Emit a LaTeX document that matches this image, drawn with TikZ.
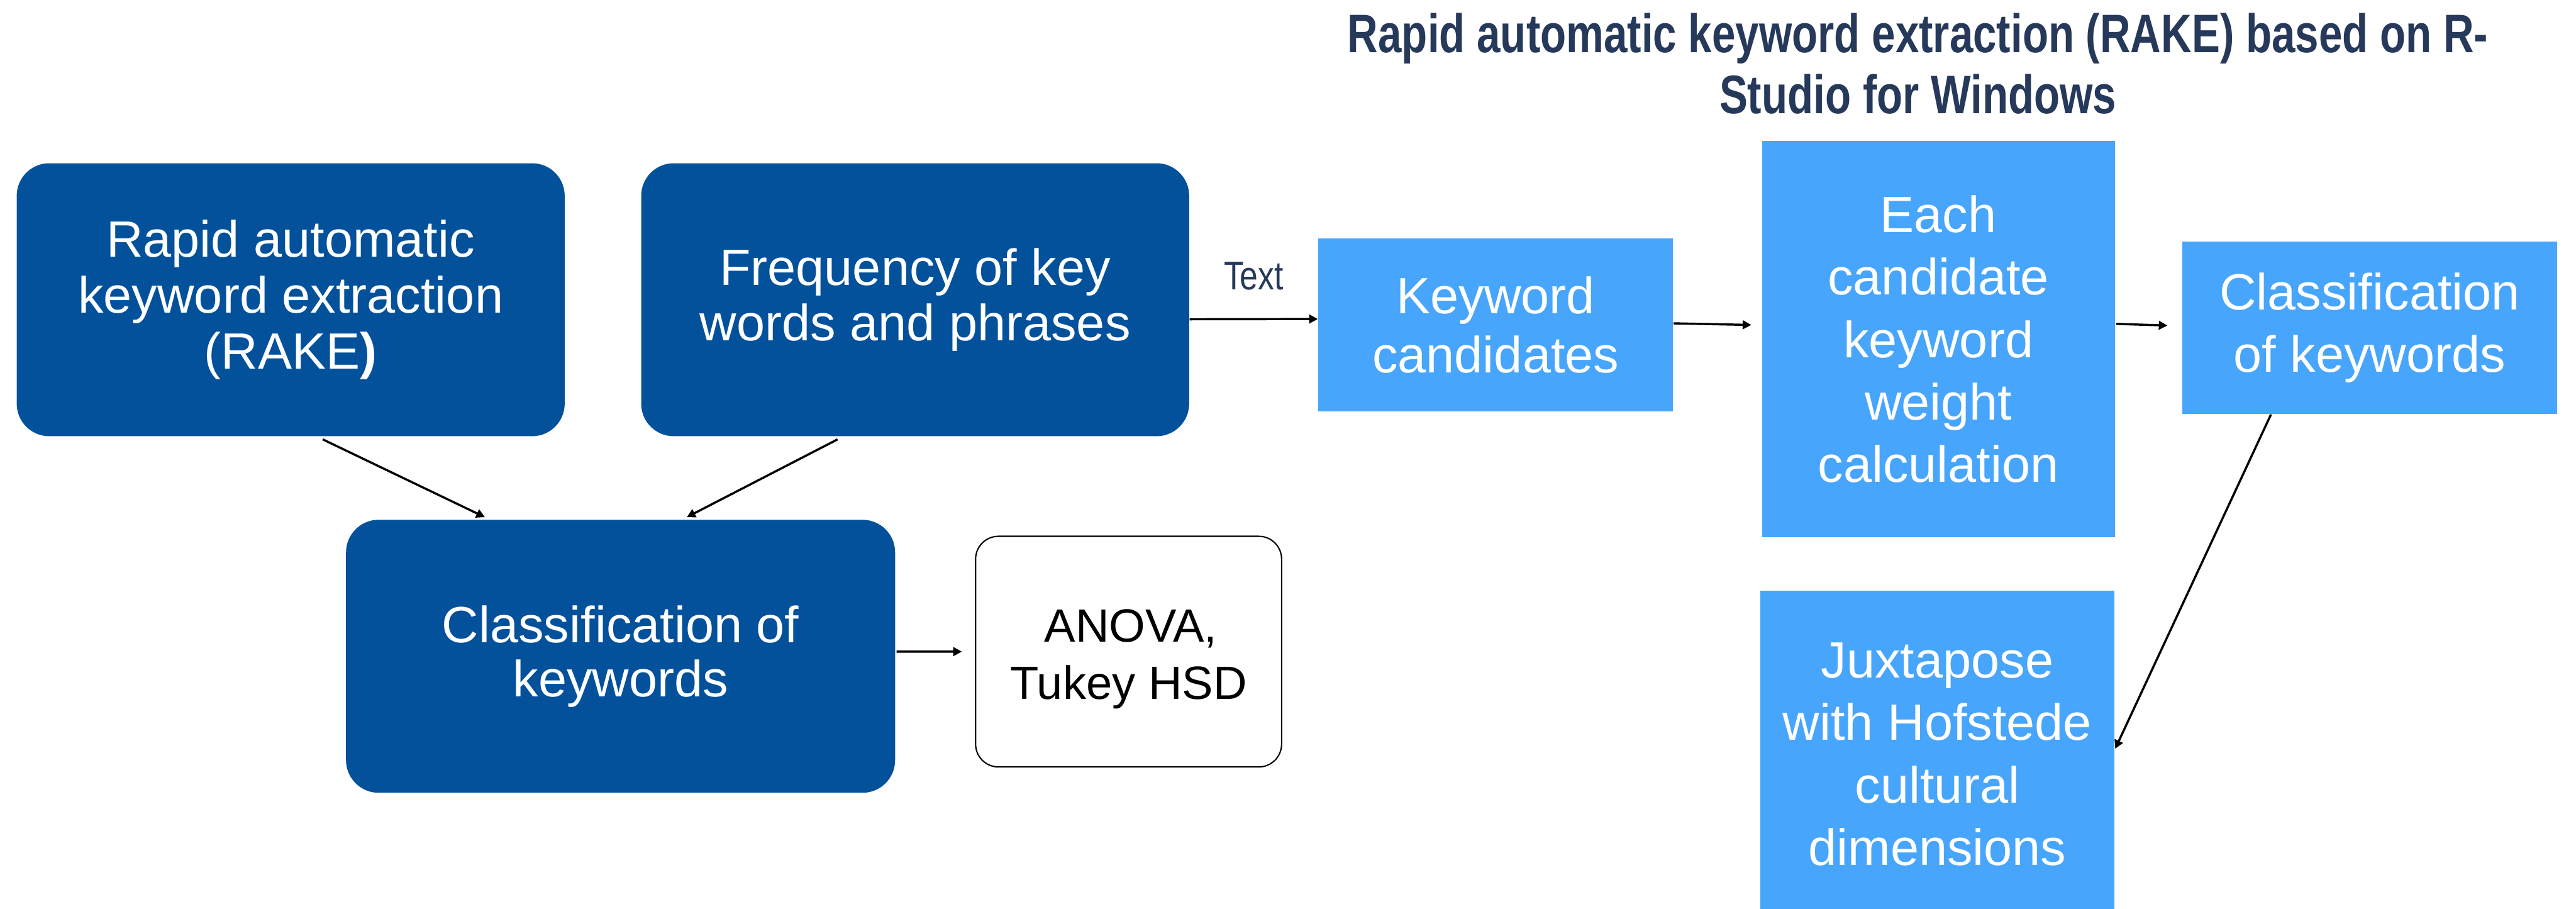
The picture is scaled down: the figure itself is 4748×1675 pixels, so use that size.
\documentclass[tikz,border=0pt]{standalone}
\usepackage{fontspec}
\setmainfont{Liberation Sans}
\newfontfamily\headfont[FakeStretch=0.78]{Liberation Sans}
\newfontfamily\labelfont[FakeStretch=0.81]{Liberation Sans}
\usetikzlibrary{arrows.meta,backgrounds}

\definecolor{darkbox}{HTML}{03519B}
\definecolor{lightbox}{HTML}{47A5FC}
\definecolor{navy}{HTML}{26395A}

% one unit = one pixel of a 4748 x 1675 canvas, y grows downwards
\tikzset{
  x=0.25pt, y=-0.25pt,
  darkstep/.style={fill=darkbox, text=white, rounded corners=15pt, anchor=north west,
    inner sep=0pt, align=center, font=\fontsize{23.5}{25.75}\selectfont},
  lightstep/.style={fill=lightbox, text=white, anchor=north west, inner sep=0pt,
    align=center},
  resultbox/.style={draw=black, line width=0.6pt, fill=white, rounded corners=10.5pt,
    anchor=north west, inner sep=0pt},
  resulttext/.style={align=center, inner sep=0pt, text=black,
    font=\fontsize{21.5}{26.5}\selectfont},
  arr/.style={-{Triangle[length=4pt,width=4pt]}, line width=1pt, black},
}

\begin{document}
\begin{tikzpicture}
\useasboundingbox (0,0) rectangle (4748,1675);
\clip (0,0) rectangle (4748,1675);
\fill[white] (0,0) rectangle (4748,1675);

% heading
\node[font=\headfont\bfseries\fontsize{25}{28}\selectfont, text=navy, align=center,
      inner sep=0pt] (title) at (3535,117)
  {Rapid automatic keyword extraction (RAKE) based on R-\\Studio for Windows};

% left-hand workflow
\node[darkstep, minimum width=252.5pt, minimum height=125.75pt] (rake) at (30,300)
  {Rapid automatic\\keyword extraction\\(RAKE\textbf{)}};
\node[darkstep, minimum width=252.5pt, minimum height=125.75pt] (freq) at (1181,300)
  {Frequency of key\\words and phrases};
\node[darkstep, minimum width=253pt, minimum height=125.75pt,
      font=\fontsize{23.5}{25}\selectfont] (classA) at (637,957)
  {Classification of\\keywords};
\node[resultbox, minimum width=141pt, minimum height=106.25pt,
      label={[name=anovatext, resulttext, yshift=-3.5pt]center:{\hspace*{2pt}ANOVA,\\Tukey HSD}}]
  (anova) at (1797,987) {};

% right-hand workflow
\node[lightstep, minimum width=163.5pt, minimum height=79.5pt,
      font=\fontsize{23.5}{27.25}\selectfont] (kc) at (2429,439)
  {Keyword\\candidates};
\node[lightstep, minimum width=162.5pt, minimum height=182.5pt,
      font=\fontsize{23.5}{28.75}\selectfont] (each) at (3247,259)
  {Each\\candidate\\keyword\\weight\\calculation};
\node[lightstep, minimum width=172.5pt, minimum height=79.5pt,
      font=\fontsize{23.5}{28.75}\selectfont] (classB) at (4022,444)
  {Classification\\of keywords};
\node[lightstep, minimum width=163pt, minimum height=150.5pt,
      font=\fontsize{23.5}{28.75}\selectfont] (jux) at (3244,1088)
  {Juxtapose\\with Hofstede\\cultural\\dimensions};

% soft shadows under the light boxes
\begin{scope}[on background layer]
\foreach \n in {kc,each,classB,jux}{
  \fill[black!6]  ([shift={(-5,0)}]\n.north west) rectangle ([shift={(9,13)}]\n.south east);
  \fill[black!15] ([shift={(-3,2)}]\n.north west) rectangle ([shift={(6,9)}]\n.south east);
  \fill[black!35] ([shift={(0,3)}]\n.north west)  rectangle ([shift={(3,5)}]\n.south east);
}
\end{scope}

% connectors
\draw[arr] ([shift={(59,5)}]rake.south) -- ([shift={(-250,-4)}]classA.north);
\draw[arr] ([shift={(-143,5)}]freq.south) -- ([shift={(122,-4)}]classA.north);
\draw[arr] ([shift={(2,-8.5)}]classA.east) -- ([shift={(-24,0)}]anova.west);
\draw[arr] ([shift={(0,36)}]freq.east) --
  node[above=13pt, inner sep=0pt, font=\labelfont\fontsize{18.5}{20}\selectfont,
       text=navy] (lbl) {Text}
  ([shift={(0,-11)}]kc.west);
\draw[arr] ([shift={(0,-3)}]kc.east) -- ([shift={(-19,-26)}]each.west);
\draw[arr] ([shift={(2,-28)}]each.east) -- ([shift={(-27,-4)}]classB.west);
\draw[arr] ([shift={(-182,0)}]classB.south) -- ([shift={(1,-10)}]jux.east);
\end{tikzpicture}
\end{document}
